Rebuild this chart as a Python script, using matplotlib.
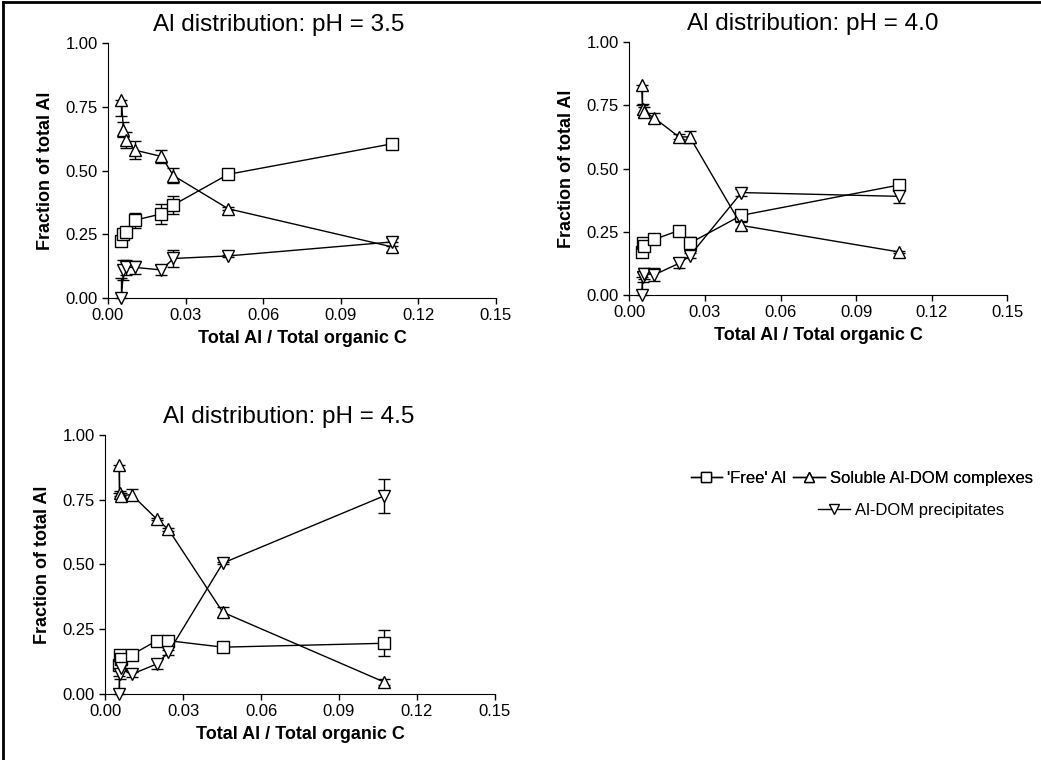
import matplotlib.pyplot as plt
from matplotlib.lines import Line2D

plt.rcParams['font.family'] = ['Liberation Sans', 'DejaVu Sans']

# pH 3.5
x35 = [0.0052, 0.0060, 0.0068, 0.0104, 0.0207, 0.0253, 0.0465, 0.1100]
free35 = [0.225, 0.25, 0.26, 0.305, 0.33, 0.365, 0.485, 0.605]
free35_err = [[0.01, 0.02, 0.02, 0.03, 0.04, 0.035, 0.01, 0.015],
              [0.01, 0.02, 0.02, 0.03, 0.04, 0.035, 0.01, 0.015]]
sol35 = [0.775, 0.66, 0.62, 0.58, 0.555, 0.48, 0.35, 0.20]
sol35_err = [[0.06, 0.03, 0.03, 0.035, 0.025, 0.03, 0.005, 0.02],
             [0.0, 0.03, 0.03, 0.035, 0.025, 0.03, 0.005, 0.02]]
ppt35 = [0.0, 0.11, 0.12, 0.12, 0.11, 0.155, 0.165, 0.22]
ppt35_err = [[0.0, 0.04, 0.03, 0.025, 0.02, 0.035, 0.005, 0.015],
             [0.08, 0.04, 0.03, 0.025, 0.02, 0.035, 0.005, 0.015]]

# pH 4.0
x40 = [0.0049, 0.0053, 0.0058, 0.0099, 0.0197, 0.0240, 0.0445, 0.1071]
free40 = [0.17, 0.205, 0.195, 0.22, 0.255, 0.205, 0.315, 0.435]
free40_err = [[0.01, 0.015, 0.02, 0.01, 0.005, 0.025, 0.01, 0.015],
              [0.01, 0.015, 0.02, 0.01, 0.005, 0.025, 0.01, 0.015]]
sol40 = [0.83, 0.735, 0.725, 0.70, 0.625, 0.625, 0.275, 0.17]
sol40_err = [[0.08, 0.02, 0.02, 0.02, 0.01, 0.025, 0.015, 0.005],
             [0.0, 0.02, 0.02, 0.02, 0.01, 0.025, 0.015, 0.005]]
ppt40 = [0.0, 0.07, 0.085, 0.08, 0.125, 0.155, 0.405, 0.39]
ppt40_err = [[0.0, 0.02, 0.02, 0.025, 0.02, 0.01, 0.015, 0.025],
             [0.07, 0.02, 0.02, 0.025, 0.02, 0.01, 0.015, 0.025]]

# pH 4.5
x45 = [0.0054, 0.0056, 0.0060, 0.0102, 0.0199, 0.0244, 0.0453, 0.1074]
free45 = [0.11, 0.15, 0.135, 0.15, 0.205, 0.205, 0.18, 0.195]
free45_err = [[0.01, 0.01, 0.01, 0.005, 0.005, 0.005, 0.015, 0.05],
              [0.01, 0.01, 0.01, 0.005, 0.005, 0.005, 0.015, 0.05]]
sol45 = [0.885, 0.775, 0.765, 0.77, 0.675, 0.635, 0.315, 0.045]
sol45_err = [[0.11, 0.01, 0.01, 0.02, 0.005, 0.005, 0.02, 0.01],
             [0.0, 0.01, 0.01, 0.02, 0.005, 0.005, 0.02, 0.01]]
ppt45 = [0.0, 0.075, 0.10, 0.075, 0.115, 0.16, 0.505, 0.765]
ppt45_err = [[0.0, 0.02, 0.01, 0.01, 0.02, 0.01, 0.005, 0.065],
             [0.07, 0.02, 0.01, 0.01, 0.02, 0.01, 0.005, 0.065]]

xticks = [0.00, 0.03, 0.06, 0.09, 0.12, 0.15]
yticks = [0.00, 0.25, 0.50, 0.75, 1.00]
labels = ["'Free' Al", "Soluble Al-DOM complexes", "Al-DOM precipitates"]
markers = ['s', '^', 'v']


def panel(ax, x, series, errs, title, title_x):
    for y, e, m in zip(series, errs, markers):
        ax.errorbar(x, y, yerr=e, color='black', lw=1.0, marker=m,
                    markersize=8.5, markerfacecolor='white', markeredgecolor='black',
                    markeredgewidth=1.0, capsize=4, elinewidth=1.0,
                    capthick=1.0, clip_on=False, zorder=3)
    ax.set_xlim(0, 0.15)
    ax.set_ylim(0, 1)
    ax.set_xticks(xticks)
    ax.set_xticklabels(['%.2f' % t for t in xticks])
    ax.set_yticks(yticks)
    ax.set_yticklabels(['%.2f' % t for t in yticks])
    ax.spines['top'].set_visible(False)
    ax.spines['right'].set_visible(False)
    ax.tick_params(direction='out', length=4, width=1, labelsize=12)
    ax.set_xlabel('Total Al / Total organic C', fontsize=13, fontweight='bold', labelpad=5)
    ax.set_ylabel('Fraction of total Al', fontsize=13, fontweight='bold', labelpad=8)
    ax.set_title(title, fontsize=17.5, x=title_x, pad=9)


fig = plt.figure(figsize=(10.41, 7.6), dpi=100)
ax1 = fig.add_axes([0.1037, 0.6079, 0.3727, 0.3355])
ax2 = fig.add_axes([0.6045, 0.6118, 0.3633, 0.3329])
ax3 = fig.add_axes([0.1009, 0.0872, 0.3746, 0.3404])

panel(ax1, x35, [free35, sol35, ppt35], [free35_err, sol35_err, ppt35_err],
      'Al distribution: pH = 3.5', 0.44)
panel(ax2, x40, [free40, sol40, ppt40], [free40_err, sol40_err, ppt40_err],
      'Al distribution: pH = 4.0', 0.485)
panel(ax3, x45, [free45, sol45, ppt45], [free45_err, sol45_err, ppt45_err],
      'Al distribution: pH = 4.5', 0.47)

# legend in the empty corner
handles = [Line2D([], [], color='black', lw=1.0, marker=m, markersize=7.5,
                  markerfacecolor='white', markeredgecolor='black')
           for m in markers]
leg1 = fig.legend(handles[:2], labels[:2], ncol=2, loc='center right',
                  bbox_to_anchor=(0.992, 0.371), frameon=False, fontsize=12,
                  handlelength=1.9, handletextpad=0.3, columnspacing=0.4,
                  borderpad=0, borderaxespad=0)
fig.legend(handles[2:], labels[2:], loc='center left',
           bbox_to_anchor=(0.786, 0.328), frameon=False, fontsize=12,
           handlelength=1.9, handletextpad=0.3, borderpad=0, borderaxespad=0)
fig.add_artist(leg1)

# frame lines at top and left edge
fig.add_artist(Line2D([0.003, 0.003], [0.0, 0.997], transform=fig.transFigure,
                      color='black', lw=2))
fig.add_artist(Line2D([0.003, 1.0], [0.997, 0.997], transform=fig.transFigure,
                      color='black', lw=2))

fig.savefig('out.png', dpi=100)
